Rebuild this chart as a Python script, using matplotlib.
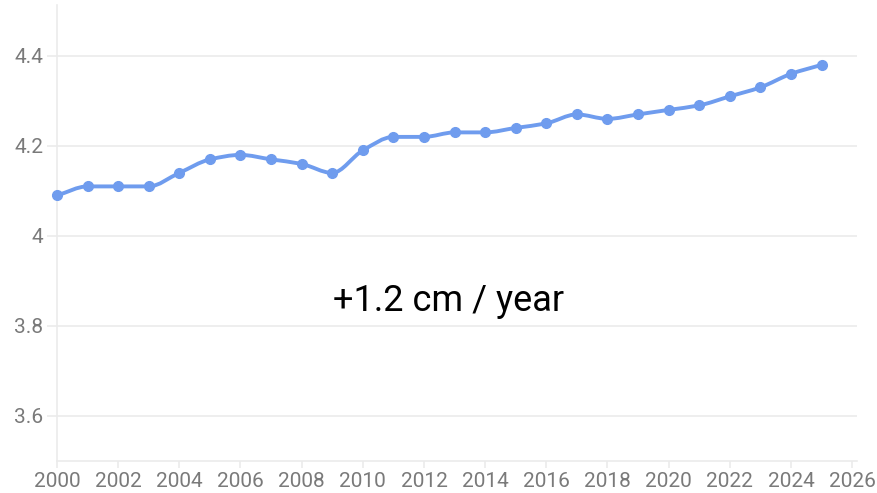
import matplotlib.pyplot as plt
from matplotlib.path import Path
import matplotlib.patches as patches
from matplotlib.ticker import FuncFormatter

plt.rcParams['font.family'] = ['Roboto', 'DejaVu Sans']

years = [2000, 2001, 2002, 2003, 2004, 2005, 2006, 2007, 2008, 2009, 2010, 2011, 2012,
         2013, 2014, 2015, 2016, 2017, 2018, 2019, 2020, 2021, 2022, 2023, 2024, 2025]
values = [4.09, 4.11, 4.11, 4.11, 4.14, 4.17, 4.18, 4.17, 4.16, 4.14, 4.19, 4.22, 4.22,
          4.23, 4.23, 4.24, 4.25, 4.27, 4.26, 4.27, 4.28, 4.29, 4.31, 4.33, 4.36, 4.38]
x_ticks = list(range(2000, 2027, 2))
y_ticks = [3.6, 3.8, 4.0, 4.2, 4.4]
label = "+1.2 cm / year"

line_color = '#6f9cee'
grid_color = '#ebebeb'
text_color = '#7a7a7a'


# monotone cubic tangents (Fritsch-Carlson), used to build a smooth bezier path
def monotone_path(xs, ys):
    n = len(xs)
    d = [(ys[i + 1] - ys[i]) / (xs[i + 1] - xs[i]) for i in range(n - 1)]
    m = [d[0]] + [0.0] * (n - 2) + [d[-1]]
    for i in range(1, n - 1):
        if d[i - 1] * d[i] <= 0:
            m[i] = 0.0
        else:
            m[i] = 2.0 / (1.0 / d[i - 1] + 1.0 / d[i])
    verts = [(xs[0], ys[0])]
    codes = [Path.MOVETO]
    for i in range(n - 1):
        h = xs[i + 1] - xs[i]
        verts += [(xs[i] + h / 3, ys[i] + m[i] * h / 3),
                  (xs[i + 1] - h / 3, ys[i + 1] - m[i + 1] * h / 3),
                  (xs[i + 1], ys[i + 1])]
        codes += [Path.CURVE4] * 3
    return Path(verts, codes)


fig = plt.figure(figsize=(8.77, 4.93), dpi=100)
ax = fig.add_axes([57 / 877, 32 / 493, 800 / 877, 456 / 493])

ax.set_xlim(2000, 2026.16)
ax.set_ylim(3.5, 4.513)

ax.add_patch(patches.PathPatch(monotone_path(years, values), facecolor='none',
                               edgecolor=line_color, lw=2.8, zorder=3, clip_on=False))
ax.plot(years, values, 'o', color=line_color, ms=7, zorder=4, clip_on=False)

ax.text(2012.82, 3.855, label, fontsize=26, color='black', ha='center', va='center')

ax.set_xticks(x_ticks)
ax.set_yticks(y_ticks)
ax.yaxis.set_major_formatter(FuncFormatter(lambda v, p: '{:g}'.format(round(v, 2))))
ax.grid(axis='y', color=grid_color, lw=1.2)
ax.set_axisbelow(True)
ax.tick_params(axis='y', length=7, width=1.2, color=grid_color, labelsize=15,
               labelcolor=text_color, pad=3)
ax.tick_params(axis='x', length=5, width=1.2, color=grid_color, labelsize=15,
               labelcolor=text_color, pad=3)
for s in ['top', 'right']:
    ax.spines[s].set_visible(False)
for s in ['left', 'bottom']:
    ax.spines[s].set_color(grid_color)
    ax.spines[s].set_linewidth(1.2)

plt.savefig('out.png', dpi=100)
plt.close()
